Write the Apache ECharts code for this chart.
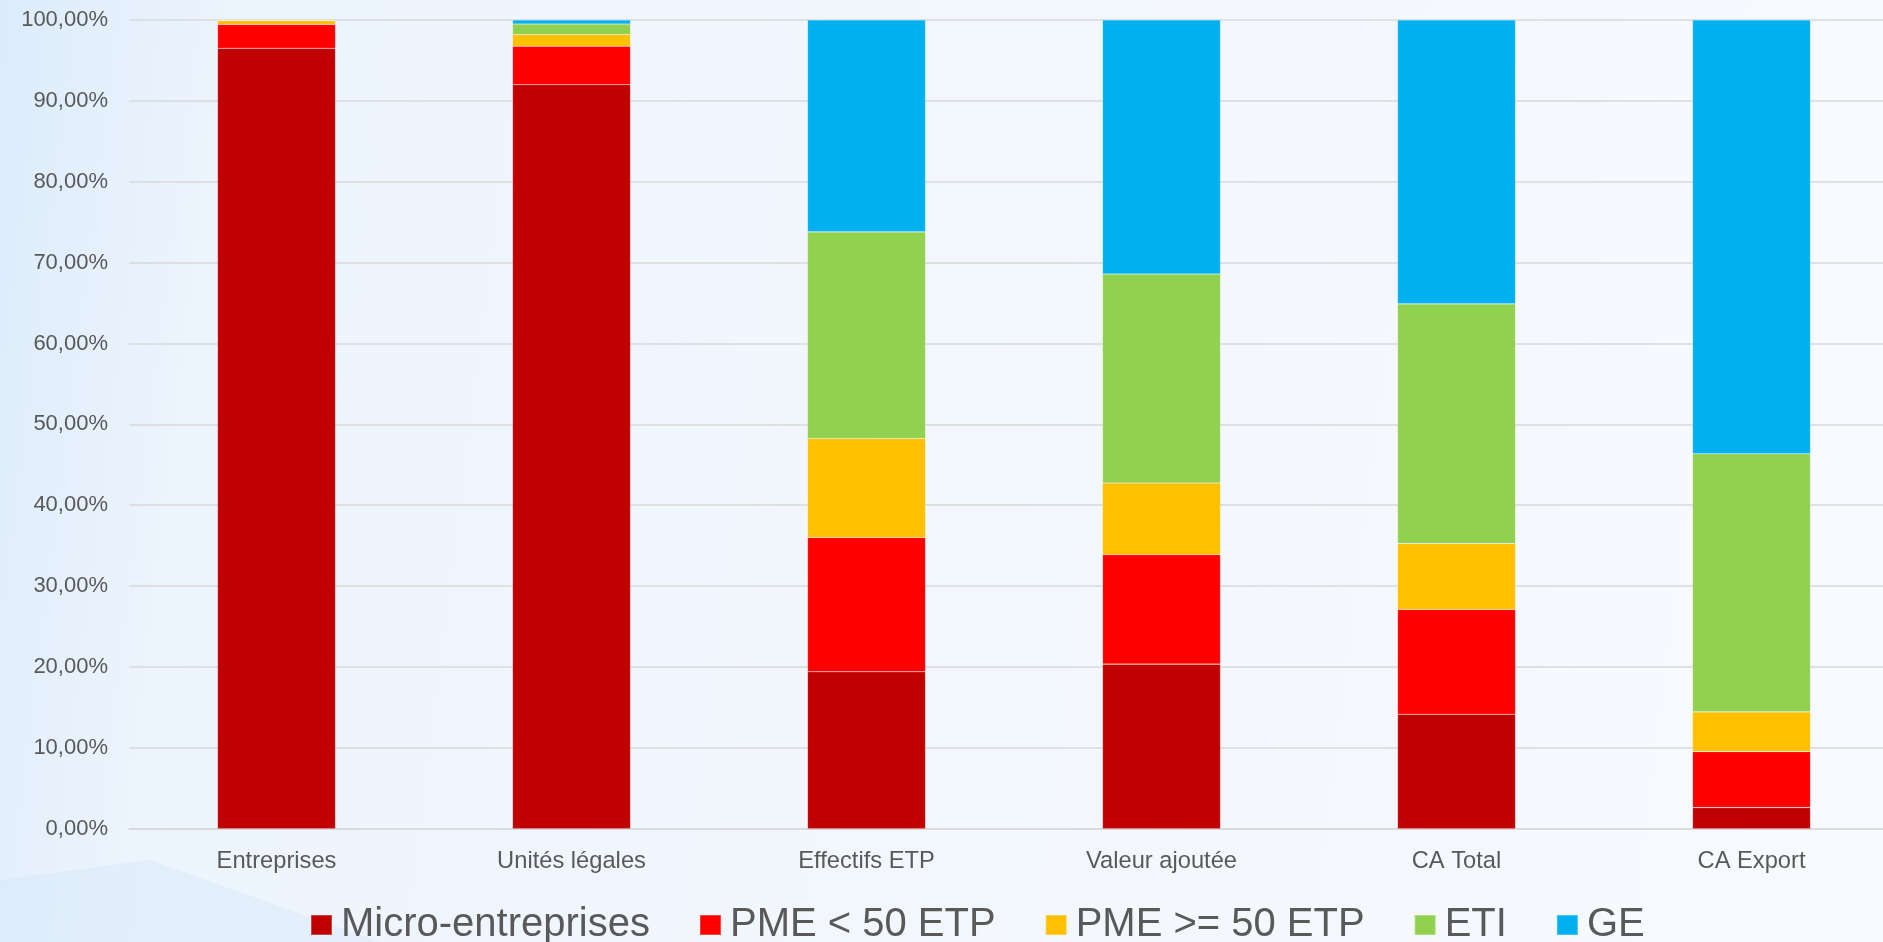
<!DOCTYPE html>
<html>
<head>
<meta charset="utf-8">
<title>Répartition par catégorie d'entreprises</title>
<script src="https://cdn.jsdelivr.net/npm/echarts@6/dist/echarts.min.js"></script>
<style>
  html, body { margin: 0; padding: 0; width: 100%; height: 100%; overflow: hidden; background: #f2f7fd; }
  #chart { width: 1900px; height: 942px; }
</style>
</head>
<body>
<div id="chart"></div>
<script>
// Categories shown on the horizontal axis
const categories = ['Entreprises', 'Unités légales', 'Effectifs ETP', 'Valeur ajoutée', 'CA Total', 'CA Export'];

// Share (%) of each company category, per indicator
const microEntreprises = [96.5, 92.0, 19.4, 20.35, 14.15, 2.6];
const pmeMoins50 = [2.95, 4.75, 16.6, 13.55, 12.95, 6.93];
const pmePlus50 = [0.45, 1.45, 12.25, 8.85, 8.15, 4.91];
const eti = [0.07, 1.3, 25.55, 25.85, 29.65, 31.92];
const ge = [0.03, 0.5, 26.2, 31.4, 35.1, 53.64];

// Vertical axis tick labels (0 to 100 by steps of 10)
const yTickLabels = ['0,00%', '10,00%', '20,00%', '30,00%', '40,00%', '50,00%', '60,00%', '70,00%', '80,00%', '90,00%', '100,00%'];

const seriesDefs = [
  { name: 'Micro-entreprises', data: microEntreprises, color: '#c00000' },
  { name: 'PME < 50 ETP', data: pmeMoins50, color: '#ff0000' },
  { name: 'PME >= 50 ETP', data: pmePlus50, color: '#ffc000' },
  { name: 'ETI', data: eti, color: '#92d050' },
  { name: 'GE', data: ge, color: '#00b0f0' }
];

const FONT = '"Liberation Sans", Arial, sans-serif';
const TEXT = '#595959';

const chart = echarts.init(document.getElementById('chart'), null, { renderer: 'canvas' });

chart.setOption({
  animation: false,
  backgroundColor: 'transparent',
  graphic: [
    {
      type: 'rect', z: -10, silent: true,
      shape: { x: 0, y: 0, width: 1900, height: 942 },
      style: {
        fill: new echarts.graphic.LinearGradient(0, 0, 1, 0.25, [
          { offset: 0, color: '#dcebfb' },
          { offset: 0.12, color: '#ecf4fd' },
          { offset: 0.5, color: '#f2f7fd' },
          { offset: 1, color: '#f7fafe' }
        ])
      }
    },
    {
      type: 'polygon', z: -9, silent: true,
      shape: { points: [[0, 880], [150, 860], [380, 942], [0, 942]] },
      style: { fill: 'rgba(205,225,247,0.3)' }
    }
  ],
  grid: {
    left: 129,
    width: 1770,
    top: 20,
    height: 808.7,
    containLabel: false
  },
  legend: {
    left: 310,
    top: 905,
    padding: 0,
    icon: 'rect',
    itemWidth: 21,
    itemHeight: 20,
    itemGap: 49,
    textStyle: { color: TEXT, fontSize: 40, fontFamily: FONT, padding: [0, 0, 0, 4] },
    data: seriesDefs.map(s => s.name)
  },
  xAxis: {
    type: 'category',
    data: categories,
    axisLine: { show: true, lineStyle: { color: '#d9d9d9', width: 1.5 } },
    axisTick: { show: false },
    axisLabel: { color: TEXT, fontSize: 23.7, fontFamily: FONT, margin: 21 }
  },
  yAxis: {
    type: 'value',
    min: 0,
    max: 100,
    interval: 10,
    axisLine: { show: false },
    axisTick: { show: false },
    splitLine: { show: true, lineStyle: { color: '#d9d9d9', width: 1.5 } },
    axisLabel: {
      color: TEXT, fontSize: 22, fontFamily: FONT, margin: 21,
      padding: [10, 0, 0, 0],
      formatter: v => yTickLabels[Math.round(v / 10)]
    }
  },
  series: seriesDefs.map(s => ({
    name: s.name,
    type: 'bar',
    stack: 'total',
    barWidth: '40%',
    data: s.data,
    itemStyle: { color: s.color, borderColor: 'rgba(255,255,255,0.25)', borderWidth: 0.6 },
    emphasis: { disabled: true }
  }))
});
</script>
</body>
</html>
